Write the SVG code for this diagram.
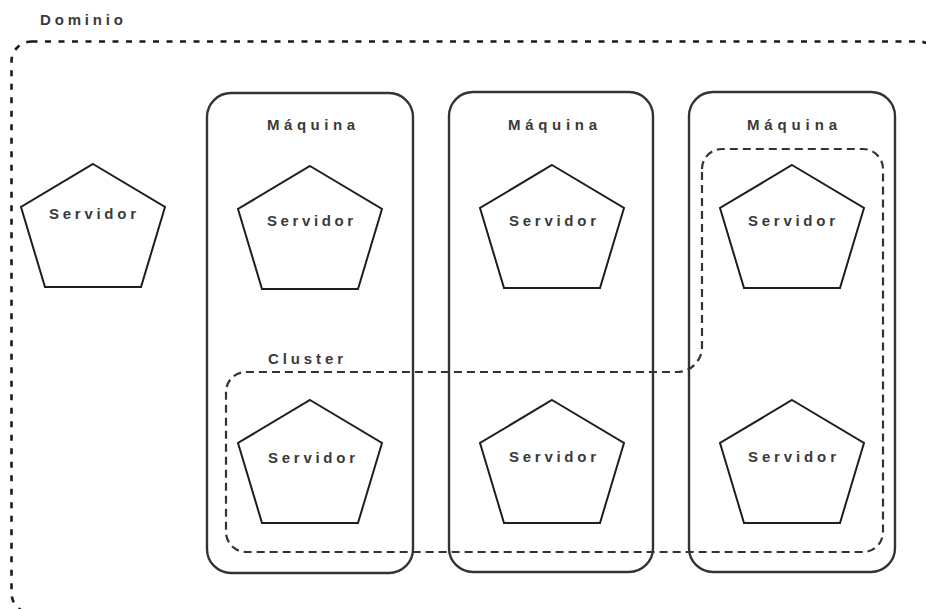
<svg xmlns="http://www.w3.org/2000/svg" xmlns:xlink="http://www.w3.org/1999/xlink" width="926" height="609" viewBox="0 0 926 609">
<style>
  .lbl { font-family: "Liberation Sans", Arial, sans-serif; font-weight: bold; font-size: 15px; fill: #3a3a3a; }
  .pent { fill: #ffffff; stroke: #1e1e1e; stroke-width: 2; stroke-linejoin: miter; }
  .machine { fill: none; stroke: #333333; stroke-width: 2.4; }
  .domain { fill: none; stroke: #1a1a1a; stroke-width: 2.6; stroke-dasharray: 6 7.5; }
  .cluster { fill: none; stroke: #333333; stroke-width: 2.2; stroke-dasharray: 8 5; }
</style>
<defs>
  <polygon id="pent" points="0,0 72,43 48,123 -48,123 -72,43"/>
</defs>
<rect width="926" height="609" fill="#ffffff"/>

<g id="domain">
  <rect class="domain" x="11.5" y="41.5" width="927" height="571.5" rx="20" ry="20"/>
  <text class="lbl" x="40" y="25" textLength="83" lengthAdjust="spacing">Dominio</text>
</g>

<g id="machine1">
  <rect class="machine" x="207" y="93" width="206" height="480" rx="24" ry="24"/>
  <text class="lbl" x="267" y="130" textLength="88" lengthAdjust="spacing">Máquina</text>
</g>
<g id="machine2">
  <rect class="machine" x="449" y="92" width="204" height="480" rx="24" ry="24"/>
  <text class="lbl" x="508" y="130" textLength="89" lengthAdjust="spacing">Máquina</text>
</g>
<g id="machine3">
  <rect class="machine" x="689" y="92" width="206" height="480" rx="24" ry="24"/>
  <text class="lbl" x="747" y="130" textLength="90" lengthAdjust="spacing">Máquina</text>
</g>

<g id="cluster">
  <path class="cluster" d="M 702 169 A 20 20 0 0 1 722 149 L 863 149 A 20 20 0 0 1 883 169 L 883 532 A 20 20 0 0 1 863 552 L 246 552 A 20 20 0 0 1 226 532 L 226 392 A 20 20 0 0 1 246 372 L 677 372 A 25 25 0 0 0 702 347 Z"/>
  <text class="lbl" x="268" y="364" textLength="75" lengthAdjust="spacing">Cluster</text>
</g>

<g id="server0">
  <use xlink:href="#pent" class="pent" x="93" y="164"/>
  <text class="lbl" x="49" y="219" textLength="87" lengthAdjust="spacing">Servidor</text>
</g>
<g id="server1">
  <use xlink:href="#pent" class="pent" x="310" y="166"/>
  <text class="lbl" x="267" y="226" textLength="86" lengthAdjust="spacing">Servidor</text>
</g>
<g id="server2">
  <use xlink:href="#pent" class="pent" x="310" y="400"/>
  <text class="lbl" x="268" y="463" textLength="87" lengthAdjust="spacing">Servidor</text>
</g>
<g id="server3">
  <use xlink:href="#pent" class="pent" x="552" y="165"/>
  <text class="lbl" x="509" y="226" textLength="87" lengthAdjust="spacing">Servidor</text>
</g>
<g id="server4">
  <use xlink:href="#pent" class="pent" x="552" y="400"/>
  <text class="lbl" x="509" y="462" textLength="87" lengthAdjust="spacing">Servidor</text>
</g>
<g id="server5">
  <use xlink:href="#pent" class="pent" x="792" y="165"/>
  <text class="lbl" x="748" y="226" textLength="87" lengthAdjust="spacing">Servidor</text>
</g>
<g id="server6">
  <use xlink:href="#pent" class="pent" x="792" y="400"/>
  <text class="lbl" x="748" y="462" textLength="88" lengthAdjust="spacing">Servidor</text>
</g>

<g id="connectors"></g>
</svg>
